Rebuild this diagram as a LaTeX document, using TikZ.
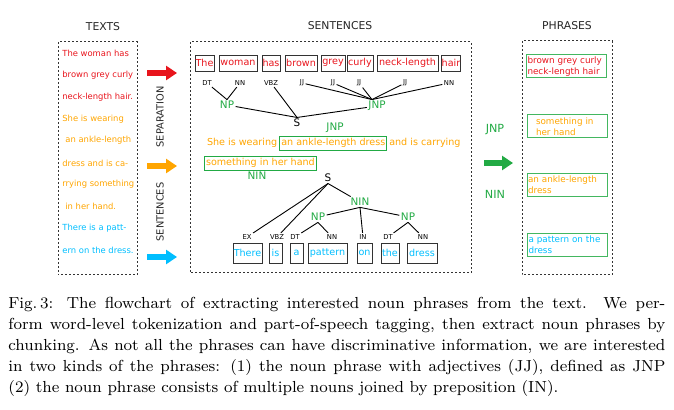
\documentclass[tikz,border=0pt]{standalone}
\usepackage{fontspec}
\setsansfont{DejaVu Sans}
\usetikzlibrary{positioning,arrows.meta}
\definecolor{tred}{RGB}{232,20,28}
\definecolor{torange}{RGB}{255,165,0}
\definecolor{tblue}{RGB}{0,190,255}
\definecolor{tgreen}{RGB}{34,170,68}
\tikzset{
  box/.style={draw=black!80, dash pattern=on 1pt off 1pt, line width=0.5pt},
  head/.style={font=\sffamily\fontsize{5.4}{6}\selectfont, text=black!85},
  wordbox/.style={draw=black!80, line width=0.45pt, inner sep=0pt, font=\sffamily\fontsize{4.8}{5}\selectfont},
  tag/.style={font=\sffamily\fontsize{3.4}{4}\selectfont, inner sep=0.6pt},
  sym/.style={font=\sffamily\fontsize{5.2}{6}\selectfont, inner sep=0.6pt},
  chunk/.style={sym, text=tgreen},
  txt/.style={anchor=west, inner sep=0pt, font=\sffamily\fontsize{4.2}{5}\selectfont},
  sent/.style={text=torange, inner sep=0.8pt, minimum height=7pt, font=\sffamily\fontsize{4.8}{5}\selectfont},
  phrase/.style={draw=tgreen!85, line width=0.5pt, align=left, text width=39pt, minimum height=11.5pt, inner sep=0.5pt, font=\sffamily\fontsize{4.4}{5.5}\selectfont},
  bigarrow/.style={line width=2.75pt, -{Triangle[width=7pt,length=5.5pt]}},
  tree/.style={line width=0.45pt},
}
\begin{document}
\begin{tikzpicture}[x=0.5pt, y=-0.5pt]
  \useasboundingbox (0,0) rectangle (674,410);

  \node[head] (hT) at (103,27) {TEXTS};
  \node[head] (hS) at (340,26) {SENTENCES};
  \node[head] (hP) at (567,26) {PHRASES};

  \draw[box] (58,42) rectangle (137,275);
  \draw[box] (190,42) rectangle (471,273);
  \draw[box] (522,41) rectangle (612,275);

  % input text
  \foreach \i/\y/\c/\t in {1/53/tred/The woman has, 2/75/tred/brown grey curly, 3/97/tred/neck-length hair.,
      4/119/torange/She is wearing, 5/140/torange/\hspace*{1.5pt}an ankle-length, 6/163/torange/dress and is ca-,
      7/184/torange/rrying something, 8/206/torange/\hspace*{1.5pt}in her hand., 9/228/tblue/There is a patt-,
      10/250/tblue/ern on the dress.}
    \node[txt, text=\c] (l\i) at (62,\y) {\t};

  \node[head, rotate=90, font=\sffamily\fontsize{4.9}{6}\selectfont] (sep) at (160,117) {SEPARATION};
  \node[head, rotate=90, font=\sffamily\fontsize{4.9}{6}\selectfont] (sen) at (160,212) {SENTENCES};

  \draw[bigarrow, tred] (147,73) -- (177,73);
  \draw[bigarrow, torange] (147,166) -- (177,166);
  \draw[bigarrow, tblue] (147,257) -- (177,257);
  \draw[bigarrow, tgreen] (484,163) -- (513,163);

  \node[chunk, font=\sffamily\fontsize{5.6}{6}\selectfont] (rj) at (495,130) {JNP};
  \node[chunk, font=\sffamily\fontsize{5.6}{6}\selectfont] (rn) at (495,194) {NIN};

  % first sentence
  \foreach \i/\x/\w/\t in {1/204.5/19/The, 2/238/38/woman, 3/271/18/has, 4/301/32/brown,
      5/333/24/grey, 6/360/26/curly, 7/407.5/61/neck-length, 8/451/18/hair}
    \node[wordbox, text=tred, minimum width=\w*0.5pt, minimum height=8pt] (a\i) at (\x,63) {\t};
  \foreach \i/\x/\t in {1/207/DT, 2/240/NN, 3/271/VBZ, 4/302/JJ, 5/333/JJ, 6/359/JJ, 7/405/JJ, 8/449/NN}
    \node[tag] (p\i) at (\x,83) {\t};

  \node[chunk] (np1) at (227,105) {NP};
  \node[chunk] (jnp1) at (377,106) {JNP};
  \node[sym] (s1) at (297,123) {S};
  \draw[tree] (p1) -- (np1.north);
  \draw[tree] (p2) -- (np1.north);
  \foreach \i in {4,...,8}
    \draw[tree] (p\i) -- ([xshift=-2.5pt]jnp1.north);
  \draw[tree] (np1) -- (s1.north);
  \draw[tree] (p3) -- (s1.north);
  \draw[tree] (jnp1) -- (s1.north);

  % second sentence
  \node[sent, anchor=west] (o1) at (205,143) {She is wearing};
  \node[sent, draw=tgreen, right=0pt of o1] (o2) {an ankle-length dress};
  \node[sent, right=0pt of o2] (o3) {and is carrying};
  \node[sent, draw=tgreen, anchor=west] (o4) at (204,163) {something in her hand};
  \node[chunk] (jnp2) at (335,128) {JNP};
  \node[chunk] (nin1) at (257,176) {NIN};

  % third sentence
  \node[sym] (s2) at (328,178) {S};
  \node[chunk] (nin2) at (360,202) {NIN};
  \node[chunk] (np3) at (318,217) {NP};
  \node[chunk] (np4) at (408,217) {NP};
  \foreach \i/\x/\t in {1/247/EX, 2/277/VBZ, 3/295/DT, 4/332/NN, 5/363/IN, 6/388/DT, 7/423/NN}
    \node[tag] (q\i) at (\x,237) {\t};
  \foreach \i/\x/\w/\t in {1/247.5/29/There, 2/275.5/13/is, 3/296.5/13/a, 4/327.5/39/pattern,
      5/364.5/15/on, 6/390/18/the, 7/422/30/dress}
    \node[wordbox, text=tblue, minimum width=\w*0.5pt, minimum height=10pt] (b\i) at (\x,253) {\t};
  \draw[tree] (s2.south) -- (q1);
  \draw[tree] (s2.south) -- (q2);
  \draw[tree] (s2.south) -- (nin2);
  \draw[tree] (nin2.south) -- (np3);
  \draw[tree] (nin2.south) -- (q5);
  \draw[tree] (nin2.south) -- (np4);
  \draw[tree] (np3.south) -- (q3);
  \draw[tree] (np3.south) -- (q4);
  \draw[tree] (np4.south) -- (q6);
  \draw[tree] (np4.south) -- (q7);

  % phrases
  \node[phrase, text=tred] (f1) at (566.5,66.5) {brown grey curly\\neck-length hair};
  \node[phrase, text=torange] (f2) at (567,126.5) {\hspace*{4pt}something in\\\hspace*{4pt}her hand};
  \node[phrase, text=torange] (f3) at (567,185) {an ankle-length\\dress};
  \node[phrase, text=tblue] (f4) at (567.5,245) {a pattern on the\\dress};

  \node[anchor=north west, inner sep=0pt, text width=328.5pt, align=justify,
    font=\fontsize{8}{10.5}\selectfont] (cap) at (8,297)
    {Fig.\,3: The flowchart of extracting interested noun phrases from the text. We per-\linebreak
    form word-level tokenization and part-of-speech tagging, then extract noun phrases by\linebreak
    chunking. As not all the phrases can have discriminative information, we are interested\linebreak
    in two kinds of the phrases: (1) the noun phrase with adjectives (JJ), defined as JNP\linebreak
    (2) the noun phrase consists of multiple nouns joined by preposition (IN).};
\end{tikzpicture}
\end{document}
